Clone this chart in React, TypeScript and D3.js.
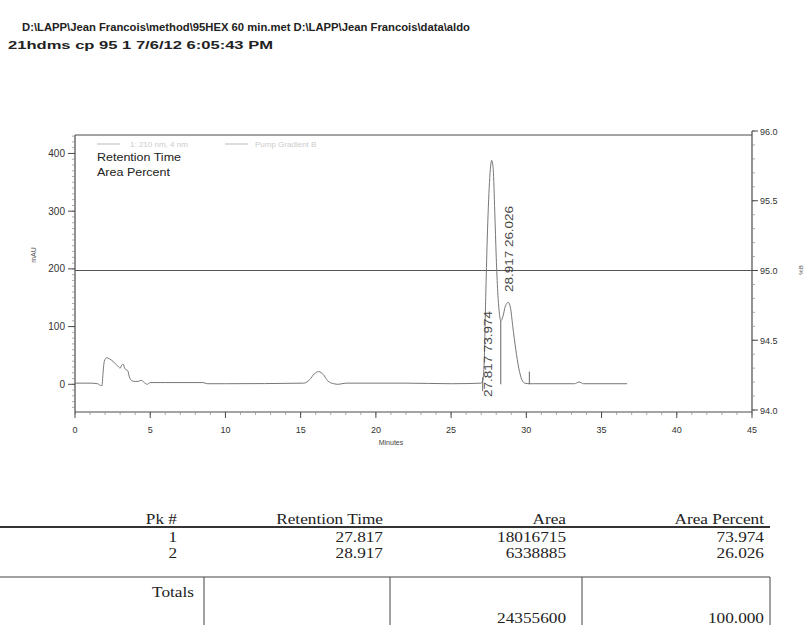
import React from "react";
import * as d3 from "d3";

const titleLines = [
  "D:\\LAPP\\Jean Francois\\method\\95HEX 60 min.met  D:\\LAPP\\Jean Francois\\data\\aldo",
  "21hdms cp 95 1  7/6/12 6:05:43 PM",
];
const xTicks = [0, 5, 10, 15, 20, 25, 30, 35, 40, 45];
const yTicks = [0, 100, 200, 300, 400];
const y2Ticks = [94.0, 94.5, 95.0, 95.5, 96.0];
const gradientLevel = 95.0;

// chromatogram trace: time (min) and absorbance (mAU)
const traceTime = [
  0, 1.0, 1.5, 1.7, 1.8, 1.85, 1.95, 2.1, 2.3, 2.6, 2.9, 3.0, 3.1, 3.2, 3.3, 3.4, 3.5, 3.6, 3.8, 4.0, 4.2, 4.4, 4.6, 4.8, 5.0,
  6.0, 8.5, 8.8, 10, 15.2, 15.6, 15.9, 16.2, 16.5, 16.8, 17.2, 17.5, 18, 22, 25, 27.0, 27.1, 27.2, 27.3, 27.4, 27.55, 27.7,
  27.8, 27.9, 28.0, 28.1, 28.2, 28.3, 28.45, 28.6, 28.8, 28.95, 29.1, 29.3, 29.5, 29.7, 29.9, 30.2, 30.5, 33.2, 33.5, 33.8, 36.7,
];
const traceMAU = [
  2, 2, 1, -2, -2, 15, 40, 46, 44, 38, 30, 28, 33, 35, 28, 25, 24, 14, 6, 5, 5, 7, 3, 0, 3,
  3, 3, 1, 1, 2, 8, 18, 22, 17, 6, 1, 0, 2, 2, 1, 2, 6, 40, 150, 250, 350, 388,
  372, 300, 220, 160, 125, 110, 118, 135, 142, 132, 100, 60, 28, 8, 2, 1, 1, 1, 4, 1, 1,
];

const peakNumbers = [1, 2];
const peakTimes = [27.817, 28.917];
const peakAreas = [18016715, 6338885];
const peakPercents = [73.974, 26.026];
const totalArea = 24355600;
const totalPercent = 100.0;

// baseline marker lines (time, mAU top, mAU bottom)
const markerTimes = [27.1, 28.3, 30.2];
const markerTops = [12, 110, 22];
const markerBottoms = [-12, 0, 0];

const AX = "#4a4a4a";
const SANS = "Arial, 'Liberation Sans', sans-serif";
const SERIF = "'Liberation Serif', 'Times New Roman', serif";

function TT({ x, y, children, anchor = "end" }: { x: number; y: number; children: React.ReactNode; anchor?: string }) {
  return (
    <text transform={`translate(${x},${y}) scale(1.15,1)`} textAnchor={anchor}>
      {children}
    </text>
  );
}

export default function App() {
  const x = d3.scaleLinear().domain([0, 45]).range([75, 752]);
  const y = d3.scaleLinear().domain([-48, 432]).range([412, 135]);
  const y2 = d3.scaleLinear().domain([94, 96]).range([410, 131]);

  const pts: [number, number][] = traceTime.map((t, i) => [t, traceMAU[i]]);
  const line = d3
    .line<[number, number]>()
    .x((d) => x(d[0]))
    .y((d) => y(d[1]))
    .curve(d3.curveMonotoneX);

  const xMinor = d3.range(0, 46, 1);
  const yMinor = d3.range(-40, 431, 10);
  const y2Minor = d3.range(94, 96.001, 0.1);

  const labelAnchors = [-22, 160];

  return (
    <svg
      width={806}
      height={625}
      xmlSpace="preserve"
      style={{ position: "absolute", left: 0, top: 0, background: "#fff", whiteSpace: "pre" }}
    >
      {/* header */}
      <text x={22} y={31} fontFamily={SANS} fontWeight="bold" fontSize={11} fill="#222" textLength={448} lengthAdjust="spacingAndGlyphs">
        {titleLines[0]}
      </text>
      <text x={8} y={49} fontFamily={SANS} fontWeight="bold" fontSize={11} fill="#222" textLength={265} lengthAdjust="spacingAndGlyphs">
        {titleLines[1]}
      </text>

      {/* frame */}
      <line x1={x(0)} x2={x(45)} y1={y(432)} y2={y(432)} stroke={AX} strokeWidth={1} />
      <line x1={x(0)} x2={x(0)} y1={y(432)} y2={412} stroke={AX} strokeWidth={1.2} />
      <line x1={x(45)} x2={x(45)} y1={y2(96)} y2={412} stroke={AX} strokeWidth={1.2} />
      <line x1={x(0)} x2={x(45)} y1={412} y2={412} stroke={AX} strokeWidth={1.2} />

      {/* left axis */}
      {yMinor.map((v) => (
        <line key={"ym" + v} x1={x(0) - 3} x2={x(0)} y1={y(v)} y2={y(v)} stroke="#888" strokeWidth={0.7} />
      ))}
      {yTicks.map((v) => (
        <g key={"y" + v}>
          <line x1={x(0) - 7} x2={x(0)} y1={y(v)} y2={y(v)} stroke={AX} strokeWidth={1} />
          <text x={x(0) - 10} y={y(v) + 3.5} textAnchor="end" fontFamily={SANS} fontSize={10} fill="#333">
            {v}
          </text>
        </g>
      ))}
      <text transform={`translate(36,255) rotate(-90)`} textAnchor="middle" fontFamily={SANS} fontSize={7} fill="#555">
        mAU
      </text>

      {/* right axis */}
      {y2Minor.map((v, i) => (
        <line key={"y2m" + i} x1={x(45)} x2={x(45) + 3} y1={y2(v)} y2={y2(v)} stroke="#888" strokeWidth={0.7} />
      ))}
      {y2Ticks.map((v) => (
        <g key={"y2" + v}>
          <line x1={x(45)} x2={x(45) + 6} y1={y2(v)} y2={y2(v)} stroke={AX} strokeWidth={1} />
          <text x={x(45) + 8} y={y2(v) + 3.5} fontFamily={SANS} fontSize={9} fill="#333">
            {v.toFixed(1)}
          </text>
        </g>
      ))}
      <text transform={`translate(803,270) rotate(-90)`} textAnchor="middle" fontFamily={SANS} fontSize={6} fill="#555">
        %B
      </text>

      {/* bottom axis */}
      {xMinor.map((v) => (
        <line key={"xm" + v} x1={x(v)} x2={x(v)} y1={412} y2={415} stroke="#888" strokeWidth={0.7} />
      ))}
      {xTicks.map((v) => (
        <g key={"x" + v}>
          <line x1={x(v)} x2={x(v)} y1={412} y2={418} stroke={AX} strokeWidth={1} />
          <text x={x(v)} y={433} textAnchor="middle" fontFamily={SANS} fontSize={9} fill="#333">
            {v}
          </text>
        </g>
      ))}
      <text x={391} y={445} textAnchor="middle" fontFamily={SANS} fontSize={7} fill="#444">
        Minutes
      </text>

      {/* legend */}
      <line x1={97} x2={120} y1={144} y2={144} stroke="#bbb" strokeWidth={1} />
      <text x={130} y={147} fontFamily={SANS} fontSize={8} fill="#ccc">
        1: 210 nm, 4 nm
      </text>
      <line x1={225} x2={248} y1={144} y2={144} stroke="#bbb" strokeWidth={1} />
      <text x={255} y={147} fontFamily={SANS} fontSize={8} fill="#ccc">
        Pump Gradient B
      </text>
      <text x={97} y={161} fontFamily={SANS} fontSize={10} fill="#222" textLength={84} lengthAdjust="spacingAndGlyphs">
        Retention Time
      </text>
      <text x={97} y={176} fontFamily={SANS} fontSize={10} fill="#222" textLength={73} lengthAdjust="spacingAndGlyphs">
        Area Percent
      </text>

      {/* pump gradient */}
      <line x1={x(0)} x2={x(45)} y1={y2(gradientLevel)} y2={y2(gradientLevel)} stroke="#555" strokeWidth={1} />

      {/* trace */}
      <path d={line(pts) || ""} fill="none" stroke="#777" strokeWidth={1} />

      {/* integration markers */}
      {markerTimes.map((t, i) => (
        <line key={"mk" + i} x1={x(t)} x2={x(t)} y1={y(markerTops[i])} y2={y(markerBottoms[i])} stroke="#666" strokeWidth={1} />
      ))}

      {/* peak labels */}
      {peakTimes.map((t, i) => (
        <text
          key={"pl" + i}
          transform={`translate(${x(t) + (i === 0 ? -1 : 3)},${y(labelAnchors[i])}) rotate(-90)`}
          fontFamily={SANS}
          fontSize={10}
          fill="#444"
          textLength={86}
          lengthAdjust="spacingAndGlyphs"
        >
          {`${t.toFixed(3)}  ${peakPercents[i].toFixed(3)}`}
        </text>
      ))}

      {/* results table */}
      <g fontFamily={SERIF} fontSize={15} fill="#222">
        <TT x={177} y={524}>Pk #</TT>
        <TT x={383} y={524}>Retention Time</TT>
        <TT x={566} y={524}>Area</TT>
        <TT x={764} y={524}>Area Percent</TT>
        <line x1={0} x2={770} y1={527} y2={527} stroke="#333" strokeWidth={2.2} />
        {peakNumbers.map((n, i) => (
          <g key={"row" + n}>
            <TT x={177} y={542 + i * 16}>{n}</TT>
            <TT x={383} y={542 + i * 16}>{peakTimes[i].toFixed(3)}</TT>
            <TT x={566} y={542 + i * 16}>{peakAreas[i]}</TT>
            <TT x={764} y={542 + i * 16}>{peakPercents[i].toFixed(3)}</TT>
          </g>
        ))}
        <line x1={0} x2={770} y1={577} y2={577} stroke="#444" strokeWidth={1.2} />
        {[204, 390, 582, 770].map((vx) => (
          <line key={"v" + vx} x1={vx} x2={vx} y1={577} y2={625} stroke="#444" strokeWidth={1} />
        ))}
        <TT x={194} y={597}>Totals</TT>
        <TT x={566} y={623}>{totalArea}</TT>
        <TT x={764} y={623}>{totalPercent.toFixed(3)}</TT>
      </g>
    </svg>
  );
}
